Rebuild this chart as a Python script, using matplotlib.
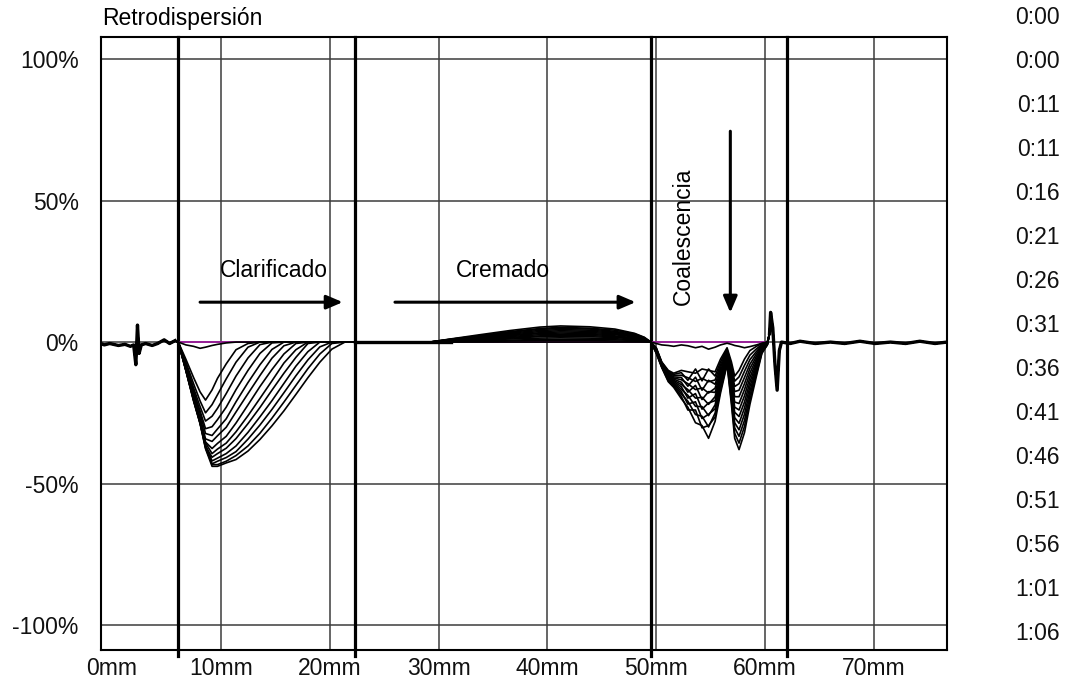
"""Turbiscan backscattering profiles (Retrodispersión) with zone annotations."""

import matplotlib

matplotlib.use("Agg")
import matplotlib.pyplot as plt
import numpy as np

plt.rcParams["font.family"] = ["Liberation Sans", "DejaVu Sans"]

# time stamp of every scan (first one is the reference scan)
TIME_LABELS = ["0:00", "0:00", "0:11", "0:11", "0:16", "0:21", "0:26", "0:31",
               "0:36", "0:41", "0:46", "0:51", "0:56", "1:01", "1:06"]

# height positions (mm) of the selected zone limits
ZONE_MM = [6.1, 22.3, 49.5, 62.0]

# shared noisy baseline below the clarification zone
LEFT_X = [-1.0, -0.7, -0.2, 0.6, 1.2, 1.7, 2.0, 2.2, 2.35, 2.5, 2.7, 3.1, 3.7,
          4.2, 4.8, 5.3, 5.8]
LEFT_Y = [-0.5, -1.0, -0.5, -1.2, -0.8, -1.5, -1.0, -8.0, 6.0, -4.0, -1.0,
          -0.5, -1.2, -0.5, 0.8, -0.5, 0.5]

# clarification zone (bottom of the cell)
CLAR_X = [6.1, 6.8, 7.5, 8.1, 8.6, 9.2, 9.7, 10.5, 11.4, 12.5, 13.6, 14.7, 15.8,
          16.9, 18.0, 19.1, 20.2, 21.4, 22.3]
CLAR_Y = [
    [0, -1.0, -1.5, -2.2, -1.8, -1.2, -0.8, -0.3, 0, 0, 0, 0, 0, 0, 0, 0, 0, 0, 0],
    [0, -6.1, -12.5, -17.6, -20.5, -16.9, -12.8, -7.7, -2.7, -0.5, 0, 0, 0, 0, 0, 0, 0, 0, 0],
    [0, -7.1, -14.7, -20.8, -25.0, -22.1, -18.6, -13.0, -7.1, -1.8, 0, 0, 0, 0, 0, 0, 0, 0, 0],
    [0, -7.9, -16.2, -22.8, -27.9, -26.2, -23.4, -18.2, -12.0, -5.6, -0.9, 0, 0, 0, 0, 0, 0, 0, 0],
    [0, -8.4, -17.3, -24.3, -30.6, -29.9, -27.4, -23.0, -16.8, -10.0, -4.0, -0.3, 0, 0, 0, 0, 0, 0, 0],
    [0, -8.8, -18.0, -25.2, -32.3, -33.0, -30.7, -27.1, -21.1, -14.3, -8.0, -2.6, 0, 0, 0, 0, 0, 0, 0],
    [0, -9.3, -19.1, -26.6, -34.2, -35.1, -33.1, -30.1, -24.7, -18.2, -11.8, -5.7, -1.3, 0, 0, 0, 0, 0, 0],
    [0, -9.5, -19.4, -27.4, -35.3, -37.6, -35.8, -33.3, -28.6, -22.2, -15.7, -9.7, -4.2, -0.5, 0, 0, 0, 0, 0],
    [0, -9.6, -19.6, -27.7, -35.6, -39.4, -37.8, -35.7, -31.7, -26.0, -19.9, -13.7, -7.4, -2.7, 0, 0, 0, 0, 0],
    [0, -9.9, -20.2, -28.6, -36.7, -40.7, -39.4, -37.5, -34.1, -28.8, -23.1, -17.0, -11.0, -5.4, -0.5, 0, 0, 0, 0],
    [0, -9.9, -20.2, -28.1, -36.5, -42.0, -41.0, -39.4, -36.7, -31.9, -26.4, -20.7, -14.6, -8.5, -3.4, 0, 0, 0, 0],
    [0, -10.1, -20.6, -28.8, -37.4, -43.0, -42.1, -40.8, -38.7, -34.3, -29.3, -23.8, -17.9, -11.9, -6.3, -1.7, 0, 0, 0],
    [0, -10.0, -20.5, -28.4, -37.1, -43.3, -43.3, -42.1, -40.1, -36.7, -32.2, -26.9, -21.2, -15.3, -9.4, -4.2, -0.5, 0, 0],
    [0, -10.2, -20.8, -28.8, -37.7, -43.9, -43.9, -42.7, -41.5, -38.5, -34.4, -29.6, -24.3, -18.5, -12.6, -7.1, -2.5, 0, 0],
]

# creaming bump in the middle of the cell
MID_X = [26.5, 29.2, 31.1, 33.8, 36.6, 39.3, 41.2, 43.9, 46.2, 48.0, 48.9]
MID_Y = [
    [0, 0, 0, 0, 0, 0, 0, 0, 0, 0, 0],
    [0, 0, 0.1, 0.2, 0.4, 0.5, 0.5, 0.5, 0.4, 0.3, 0.2],
    [0, 0, 0.2, 0.5, 0.7, 0.9, 1.0, 1.0, 0.8, 0.6, 0.3],
    [0, 0, 0.3, 0.7, 1.1, 1.4, 1.5, 1.4, 1.2, 0.8, 0.5],
    [0, 0, 0.4, 0.9, 1.4, 1.9, 2.0, 1.9, 1.6, 1.1, 0.6],
    [0, 0, 0.5, 1.1, 1.7, 2.2, 2.4, 2.3, 1.9, 1.3, 0.7],
    [0, 0, 0.6, 1.3, 2.0, 2.6, 2.8, 2.7, 2.2, 1.5, 0.8],
    [0, 0, 0.6, 1.4, 2.3, 3.0, 3.2, 3.0, 2.6, 1.8, 1.0],
    [0, 0, 0.7, 1.6, 2.6, 3.3, 3.6, 3.4, 2.9, 2.0, 1.1],
    [0, 0, 0.8, 1.8, 2.9, 3.7, 4.0, 3.8, 3.2, 2.2, 1.2],
    [0, 0, 0.9, 2.0, 3.2, 4.1, 4.4, 4.2, 3.5, 2.4, 1.3],
    [0, 0, 1.0, 2.2, 3.5, 4.5, 4.8, 4.6, 3.8, 2.6, 1.4],
    [0, 0, 1.0, 2.3, 3.7, 4.8, 5.2, 4.9, 4.2, 2.9, 1.6],
    [0, 0, 1.1, 2.6, 4.1, 5.3, 5.7, 5.4, 4.6, 3.1, 1.7],
]

# coalescence zone (top of the cell)
COAL_X = [49.5, 50.0, 50.5, 51.1, 51.6, 52.3, 52.9, 53.6, 54.2, 54.8, 55.4,
          55.9, 56.5, 56.9, 57.2, 57.6, 58.1, 58.6, 59.2, 59.7, 60.2]
COAL_Y = [
    [0, -0.5, -1.0, -1.2, -1.5, -1.0, -1.3, -2.0, -1.5, -2.5, -1.8, -1.0, -0.4, -0.8, -1.2, -1.5, -2.0, -1.6, -1.0, -0.4, 0],
    [0, -2.0, -7.0, -10.0, -11.0, -10.0, -10.5, -11.0, -9.5, -10.0, -10.5, -6.0, -2.0, -7.0, -12.0, -10.0, -6.0, -3.0, -1.5, -0.5, 0],
    [0, -2.2, -7.2, -10.3, -11.4, -10.8, -13.5, -9.5, -13.7, -9.5, -12.0, -7.0, -2.5, -8.2, -13.8, -12.3, -8.2, -4.6, -2.4, -0.8, 0],
    [0, -2.3, -7.3, -10.7, -11.8, -11.7, -12.6, -13.9, -12.8, -14.0, -13.4, -8.0, -3.0, -9.5, -15.7, -14.7, -10.3, -6.2, -3.3, -1.1, 0],
    [0, -2.5, -7.5, -11.0, -12.3, -12.5, -15.6, -12.4, -17.0, -13.5, -14.9, -9.0, -3.5, -10.8, -17.5, -17.0, -12.5, -7.8, -4.1, -1.4, -0.2],
    [0, -2.7, -7.7, -11.3, -12.7, -13.3, -14.7, -16.8, -16.2, -18.0, -16.3, -10.0, -4.0, -12.0, -19.3, -19.3, -14.7, -9.3, -5.0, -1.7, -0.3],
    [0, -2.8, -7.8, -11.7, -13.1, -14.2, -17.7, -15.3, -20.3, -17.5, -17.8, -11.0, -4.5, -13.2, -21.2, -21.7, -16.8, -10.9, -5.9, -2.0, -0.4],
    [0, -3.0, -8.0, -12.0, -13.5, -15.0, -16.8, -19.8, -19.5, -22.0, -19.3, -12.0, -5.0, -14.5, -23.0, -24.0, -19.0, -12.5, -6.8, -2.3, -0.5],
    [0, -3.2, -8.2, -12.3, -13.9, -15.8, -19.8, -18.2, -23.7, -21.5, -20.7, -13.0, -5.5, -15.8, -24.8, -26.3, -21.2, -14.1, -7.6, -2.5, -0.6],
    [0, -3.3, -8.3, -12.7, -14.3, -16.7, -18.8, -22.7, -22.8, -26.0, -22.2, -14.0, -6.0, -17.0, -26.7, -28.7, -23.3, -15.7, -8.5, -2.8, -0.7],
    [0, -3.5, -8.5, -13.0, -14.8, -17.5, -21.9, -21.1, -27.0, -25.5, -23.6, -15.0, -6.5, -18.2, -28.5, -31.0, -25.5, -17.3, -9.4, -3.1, -0.8],
    [0, -3.7, -8.7, -13.3, -15.2, -18.3, -20.9, -25.6, -26.2, -30.0, -25.1, -16.0, -7.0, -19.5, -30.3, -33.3, -27.7, -18.8, -10.3, -3.4, -0.9],
    [0, -3.8, -8.8, -13.7, -15.6, -19.2, -24.0, -24.0, -30.3, -29.5, -26.5, -17.0, -7.5, -20.8, -32.2, -35.7, -29.8, -20.4, -11.1, -3.7, -0.9],
    [0, -4.0, -9.0, -14.0, -16.0, -20.0, -23.0, -28.5, -29.5, -34.0, -28.0, -18.0, -8.0, -22.0, -34.0, -38.0, -32.0, -22.0, -12.0, -4.0, -1.0],
]

# shared edge artefact and noisy baseline above the sample
RIGHT_X = [60.4, 60.5, 60.7, 60.9, 61.1, 61.3, 61.5, 62.3, 63.2, 64.6, 66.0,
           67.3, 68.7, 70.1, 71.5, 72.9, 74.2, 75.6, 76.7]
RIGHT_Y = [3.0, 10.5, 5.0, -8.0, -17.0, -3.0, 0, -0.5, 0.3, -0.5, 0, -0.5, 0.3,
           -0.5, 0, -0.5, 0.3, -0.5, 0]

REFERENCE_LEVEL = 0.0

FONT_SIZE = 16.5
REF_COLOR = "#9c1c9c"
GRID_COLOR = "#3c3c3c"


def main() -> None:
    fig = plt.figure(figsize=(10.7, 6.78), dpi=100)
    ax = fig.add_axes([101 / 1070, 1 - 650 / 678, 846 / 1070, 613 / 678])

    ax.set_xlim(-1.0, 76.7)
    ax.set_ylim(-108.8, 107.8)
    ax.set_xticks(range(0, 80, 10), [f"{v}mm" for v in range(0, 80, 10)])
    ax.set_yticks([-100, -50, 0, 50, 100], ["-100%", "-50%", "0%", "50%", "100%"])
    ax.tick_params(length=0, labelsize=FONT_SIZE, colors="#111111")
    ax.tick_params(axis="x", pad=5)
    ax.tick_params(axis="y", pad=16)
    ax.grid(True, color=GRID_COLOR, linewidth=1.1)
    ax.set_axisbelow(True)
    # the 0 mm line sits on the frame in the original, so no separate grid line
    ax.get_xgridlines()[0].set_visible(False)
    for spine in ax.spines.values():
        spine.set_linewidth(1.5)
        spine.set_color("black")

    for pos in ZONE_MM:
        ax.axvline(pos, ymin=-0.01, color="black", linewidth=2.3, zorder=2,
                   clip_on=False)

    all_x = np.concatenate([LEFT_X, CLAR_X, MID_X, COAL_X, RIGHT_X])
    ref_x = np.concatenate([CLAR_X, MID_X, COAL_X])
    ax.plot(ref_x, np.full(len(ref_x), REFERENCE_LEVEL), color=REF_COLOR,
            linewidth=1.3, zorder=3)

    for clar, mid, coal in zip(CLAR_Y, MID_Y, COAL_Y):
        ys = np.concatenate([LEFT_Y, clar, mid, coal, RIGHT_Y])
        ax.plot(all_x, ys, color="black", linewidth=1.2, zorder=4)

    # the overlapping scans make the common baseline look thicker
    ax.plot(LEFT_X, LEFT_Y, color="black", linewidth=2.4, zorder=4)
    ax.plot(RIGHT_X, RIGHT_Y, color="black", linewidth=2.4, zorder=4)
    ax.plot([CLAR_X[-1]] + MID_X[:3], [0, 0, 0, 0], color="black", linewidth=2.4, zorder=4)

    arrow = dict(arrowstyle="-|>,head_length=0.7,head_width=0.3", color="black",
                 linewidth=2.2, mutation_scale=14, shrinkA=0, shrinkB=0)
    ax.annotate("", xy=(21.2, 14.1), xytext=(8.1, 14.1), arrowprops=arrow, zorder=5)
    ax.annotate("", xy=(48.1, 14.1), xytext=(26.0, 14.1), arrowprops=arrow, zorder=5)
    ax.annotate("", xy=(56.8, 10.4), xytext=(56.8, 74.5), arrowprops=arrow, zorder=5)

    ax.text(14.9, 25.4, "Clarificado", ha="center", va="center", fontsize=FONT_SIZE)
    ax.text(35.9, 25.4, "Cremado", ha="center", va="center", fontsize=FONT_SIZE)
    ax.text(52.5, 37.5, "Coalescencia", ha="center", va="center", rotation=90,
            fontsize=FONT_SIZE)

    fig.text(102 / 1070, 1 - 25 / 678, "Retrodispersión", ha="left",
             va="baseline", fontsize=FONT_SIZE)

    for i, label in enumerate(TIME_LABELS):
        fig.text(1060 / 1070, 1 - (18 + 44 * i) / 678, label, ha="right",
                 va="center", fontsize=FONT_SIZE, color="#111111")

    fig.savefig("out.png", dpi=100)
    plt.close(fig)


if __name__ == "__main__":
    main()
